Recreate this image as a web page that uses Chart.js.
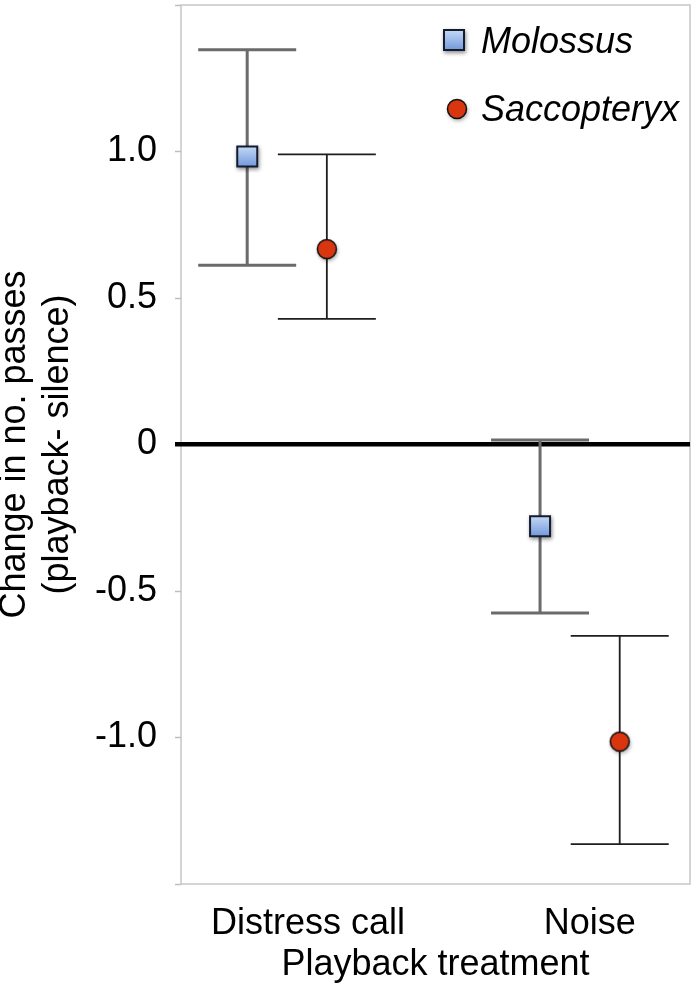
<!DOCTYPE html>
<html>
<head>
<meta charset="utf-8">
<script src="https://cdn.jsdelivr.net/npm/chart.js@4.4.1/dist/chart.umd.min.js"></script>
<style>
  html, body { margin: 0; padding: 0; background: #fff; }
  #wrap { width: 695px; height: 987px; }
</style>
</head>
<body>
<div id="wrap"><canvas id="mycanvas" width="695" height="987"></canvas></div>
<script>
// values (means and error bar ends)
var categories = ['Distress call', 'Noise'];
var seriesNames = ['Molossus', 'Saccopteryx'];
var molossusMean = [0.983, -0.279];
var molossusUpper = [1.347, 0.015];
var molossusLower = [0.612, -0.575];
var saccoMean = [0.667, -1.014];
var saccoUpper = [0.990, -0.653];
var saccoLower = [0.429, -1.364];
var yTicks = [-1.5, -1.0, -0.5, 0, 0.5, 1.0, 1.5];
var yTickLabels = ['', '-1.0', '-0.5', '0', '0.5', '1.0', ''];

var FONT = '"Liberation Sans", Arial, Helvetica, sans-serif';
var dodge = 0.136;
// category labels are not centred exactly under the pairs in the original
var labelShift = [0.072, 0.034];

function makeSquare() {
  var c = document.createElement('canvas');
  c.width = 34; c.height = 34;
  var g = c.getContext('2d');
  g.shadowColor = 'rgba(0,0,0,0.45)';
  g.shadowBlur = 4; g.shadowOffsetX = 1; g.shadowOffsetY = 2;
  g.fillStyle = '#131b2c';
  g.fillRect(6, 6, 22, 22);
  g.shadowColor = 'rgba(0,0,0,0)';
  var grad = g.createLinearGradient(0, 8, 0, 26);
  grad.addColorStop(0, '#c0d5f5');
  grad.addColorStop(1, '#779ddc');
  g.fillStyle = grad;
  g.fillRect(8, 8, 18, 18);
  return c;
}

function makeCircle() {
  var c = document.createElement('canvas');
  c.width = 30; c.height = 30;
  var g = c.getContext('2d');
  g.shadowColor = 'rgba(0,0,0,0.4)';
  g.shadowBlur = 4; g.shadowOffsetX = 1; g.shadowOffsetY = 2;
  g.beginPath();
  g.arc(15, 15, 9.5, 0, Math.PI * 2);
  g.fillStyle = '#d9360f';
  g.fill();
  g.shadowColor = 'rgba(0,0,0,0)';
  g.lineWidth = 1.5;
  g.strokeStyle = '#111';
  g.stroke();
  return c;
}

var squareImg = makeSquare();
var circleImg = makeCircle();

function points(mean, shift) {
  var out = [];
  for (var i = 0; i < mean.length; i++) {
    out.push({ x: i + shift, y: mean[i] });
  }
  return out;
}

var frame = {
  id: 'frame',
  beforeDraw: function(chart) {
    var a = chart.chartArea, ctx = chart.ctx;
    ctx.save();
    ctx.strokeStyle = '#c6c6c6';
    ctx.lineWidth = 1.5;
    ctx.strokeRect(a.left, a.top, a.right - a.left, a.bottom - a.top);
    ctx.restore();
  }
};

var errorBars = {
  id: 'errorBars',
  beforeDatasetsDraw: function(chart) {
    var ctx = chart.ctx, xs = chart.scales.x, ys = chart.scales.y;
    chart.data.datasets.forEach(function(ds) {
      ctx.save();
      ctx.strokeStyle = ds.barColor;
      ctx.lineWidth = ds.barWidth;
      ds.data.forEach(function(p, i) {
        var x = xs.getPixelForValue(p.x);
        var top = ys.getPixelForValue(ds.upper[i]);
        var bot = ys.getPixelForValue(ds.lower[i]);
        ctx.beginPath();
        ctx.moveTo(x, top); ctx.lineTo(x, bot);
        ctx.moveTo(x - 49, top); ctx.lineTo(x + 49, top);
        ctx.moveTo(x - 49, bot); ctx.lineTo(x + 49, bot);
        ctx.stroke();
      });
      ctx.restore();
    });
  }
};

var legendBox = {
  id: 'legendBox',
  afterDraw: function(chart) {
    var a = chart.chartArea, ctx = chart.ctx;
    var imgs = [squareImg, circleImg];
    var rows = [{ cx: a.right - 236, cy: a.top + 35, base: a.top + 48 },
                { cx: a.right - 233, cy: a.top + 104, base: a.top + 116 }];
    ctx.save();
    ctx.font = 'italic 36px ' + FONT;
    ctx.fillStyle = '#000';
    ctx.textBaseline = 'alphabetic';
    for (var i = 0; i < seriesNames.length; i++) {
      var im = imgs[i], r = rows[i];
      ctx.drawImage(im, r.cx - im.width / 2, r.cy - im.height / 2);
      ctx.fillText(seriesNames[i], a.right - 209, r.base);
    }
    ctx.restore();
  }
};

var ctx = document.getElementById('mycanvas');

var chart = new Chart(ctx, {
  type: 'scatter',
  data: {
    datasets: [
      {
        label: seriesNames[0],
        data: points(molossusMean, -dodge),
        upper: molossusUpper,
        lower: molossusLower,
        barColor: '#6b6b6b',
        barWidth: 3,
        pointStyle: squareImg
      },
      {
        label: seriesNames[1],
        data: points(saccoMean, dodge),
        upper: saccoUpper,
        lower: saccoLower,
        barColor: '#1e1e1e',
        barWidth: 1.8,
        pointStyle: circleImg
      }
    ]
  },
  options: {
    responsive: false,
    animation: false,
    events: [],
    layout: { padding: { top: 2, right: 3, left: 0, bottom: 0 } },
    plugins: { legend: { display: false }, tooltip: { enabled: false } },
    scales: {
      x: {
        type: 'linear',
        min: -0.362,
        max: 1.376,
        border: { display: false },
        grid: { display: false },
        afterBuildTicks: function(scale) {
          scale.ticks = categories.map(function(c, i) { return { value: i + labelShift[i] }; });
        },
        afterFit: function(scale) {
          scale.height = 103;
          scale.paddingLeft = 0; scale.paddingRight = 0;
        },
        ticks: {
          autoSkip: false,
          maxRotation: 0,
          padding: 10,
          color: '#000',
          font: { family: FONT, size: 36 },
          callback: function(v, i) { return categories[i]; }
        },
        title: {
          display: true,
          text: 'Playback treatment',
          color: '#000',
          padding: { top: 0, bottom: 0 },
          font: { family: FONT, size: 36 }
        }
      },
      y: {
        min: -1.5,
        max: 1.5,
        border: { display: false },
        afterBuildTicks: function(scale) {
          scale.ticks = yTicks.map(function(v) { return { value: v }; });
        },
        afterFit: function(scale) {
          scale.width = 181;
          scale.paddingTop = 0; scale.paddingBottom = 0;
        },
        grid: {
          drawOnChartArea: true,
          tickLength: 6,
          color: function(c) { return c.tick && c.tick.value === 0 ? '#000' : 'rgba(0,0,0,0)'; },
          lineWidth: function(c) { return c.tick && c.tick.value === 0 ? 4.5 : 1; },
          tickColor: function(c) { return c.tick && c.tick.value === 0 ? '#000' : '#bdbdbd'; },
          tickWidth: function(c) { return c.tick && c.tick.value === 0 ? 4.5 : 1.5; }
        },
        ticks: {
          padding: 18,
          color: '#000',
          font: { family: FONT, size: 36 },
          callback: function(v, i) { return yTickLabels[i]; }
        },
        title: {
          display: true,
          text: ['Change in no. passes', '(playback- silence)'],
          color: '#000',
          padding: { top: -7, bottom: 0 },
          font: { family: FONT, size: 36 }
        }
      }
    }
  },
  plugins: [frame, errorBars, legendBox]
});
</script>
</body>
</html>
